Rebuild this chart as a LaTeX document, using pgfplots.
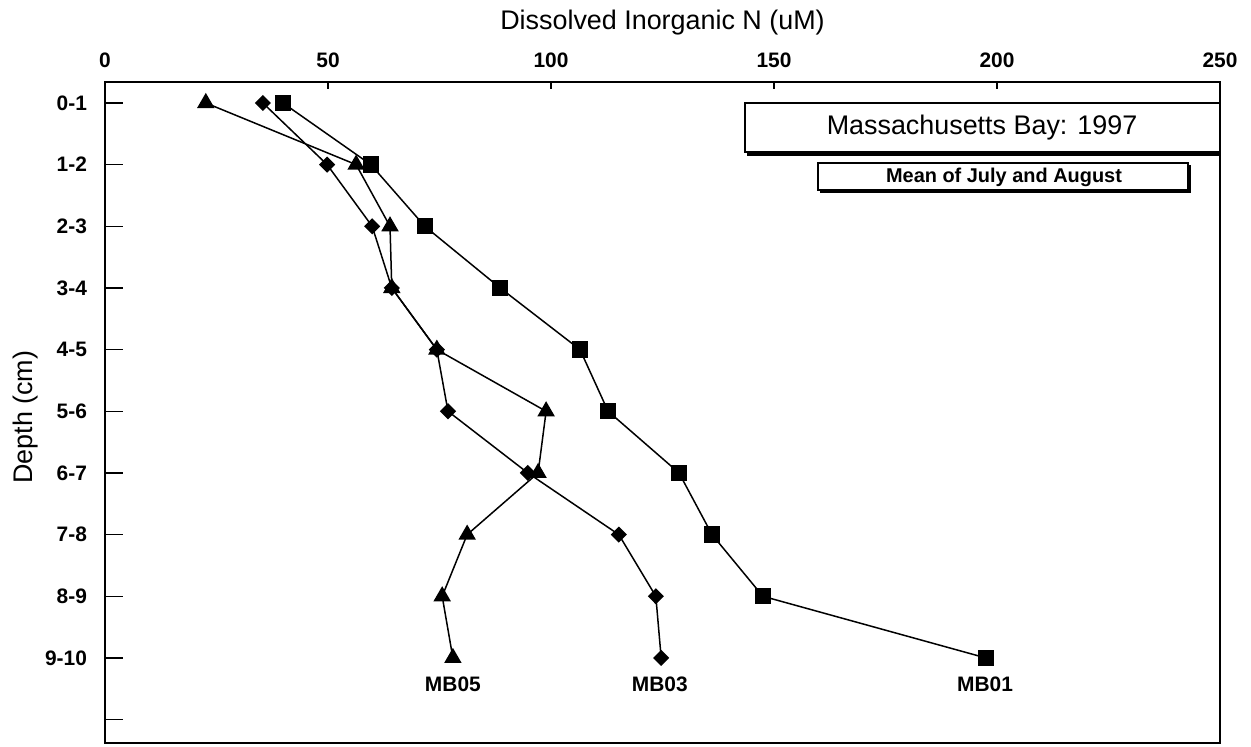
\documentclass[border=0pt]{standalone}
\usepackage{fontspec}
\setmainfont{Liberation Sans}
\usepackage{pgfplots}
\pgfplotsset{compat=1.18}
\begin{document}
\begin{tikzpicture}
\begin{axis}[
  at={(0,0)}, anchor=south west,
  scale only axis, width=557.5bp, height=330.5bp,
  xmin=0, xmax=250, ymin=-0.34, ymax=10.38, y dir=reverse,
  xtick={0,50,100,150,200,250}, xtick pos=upper, xticklabel pos=upper,
  ytick={0,1,2,3,4,5,6,7,8,9,10},
  yticklabels={0-1,1-2,2-3,3-4,4-5,5-6,6-7,7-8,8-9,9-10,{}},
  ytick pos=left,
  tick align=inside,
  major tick length=9bp,
  xtick style={/pgfplots/major tick length=3.5bp, line width=0.75bp, black},
  ytick style={line width=0.75bp, black},
  axis line style={line width=1bp},
  /pgf/number format/assume math mode=true,
  xticklabel style={font=\bfseries\fontsize{10.5}{12}\selectfont, yshift=3.5bp},
  yticklabel style={font=\bfseries\fontsize{10.5}{12}\selectfont, xshift=-5.5bp},
  xlabel={Dissolved Inorganic N (uM)},
  ylabel={Depth (cm)},
  xlabel style={font=\fontsize{13.5}{16}\selectfont, at={(axis description cs:0.5,1.0893)}, anchor=center},
  ylabel style={font=\fontsize{13.5}{16}\selectfont, at={(axis description cs:-0.0717,0.493)}, anchor=center},
  clip=false,
]
% MB01
\addplot[black, line width=0.75bp, mark=square*, mark size=3.7bp] coordinates {
(39.9,0) (59.6,1) (71.7,2) (88.6,3) (106.5,4) (112.8,5) (128.7,6) (136.1,7) (147.5,8) (197.5,9)};
% MB03
\addplot[black, line width=0.75bp, mark=diamond*, mark size=3.5bp, mark options={xscale=1.333}] coordinates {
(35.4,0) (49.8,1) (59.9,2) (64.3,3) (74.4,4) (76.9,5) (94.8,6) (115.2,7) (123.5,8) (124.7,9)};
% MB05
\addplot[black, line width=0.75bp, mark=triangle*, mark size=4.3bp] coordinates {
(22.6,0) (56.3,1) (63.9,2) (64.3,3) (74.4,4) (98.9,5) (97.1,6) (81.2,7) (75.6,8) (78.0,9)};
\node[font=\bfseries\fontsize{10.5}{12}\selectfont] at (axis cs:78.0,9.42) {MB05};
\node[font=\bfseries\fontsize{10.5}{12}\selectfont] at (axis cs:124.4,9.42) {MB03};
\node[font=\bfseries\fontsize{10.5}{12}\selectfont] at (axis cs:197.3,9.42) {MB01};
\end{axis}
\begin{scope}[x=0.5bp, y=-0.5bp, shift={(-52.5bp,371.5bp)}]
  \draw[line width=0.75bp, fill=white] (745,103) rectangle (1220,152);
  \fill[black] (747,151) rectangle (1220,156);
  \node[font=\fontsize{13.5}{16}\selectfont] at (982,128) {Massachusetts Bay: 1997};
  \draw[line width=0.75bp, fill=white] (818,163) rectangle (1188,190);
  \fill[black] (820,189) rectangle (1191,193);
  \fill[black] (1187,165) rectangle (1191,193);
  \node[font=\bfseries\fontsize{10}{12}\selectfont] at (1004,177) {Mean of July and August};
  \pgfresetboundingbox
  \path[use as bounding box] (0,0) rectangle (1251,746);
\end{scope}
\end{tikzpicture}
\end{document}
